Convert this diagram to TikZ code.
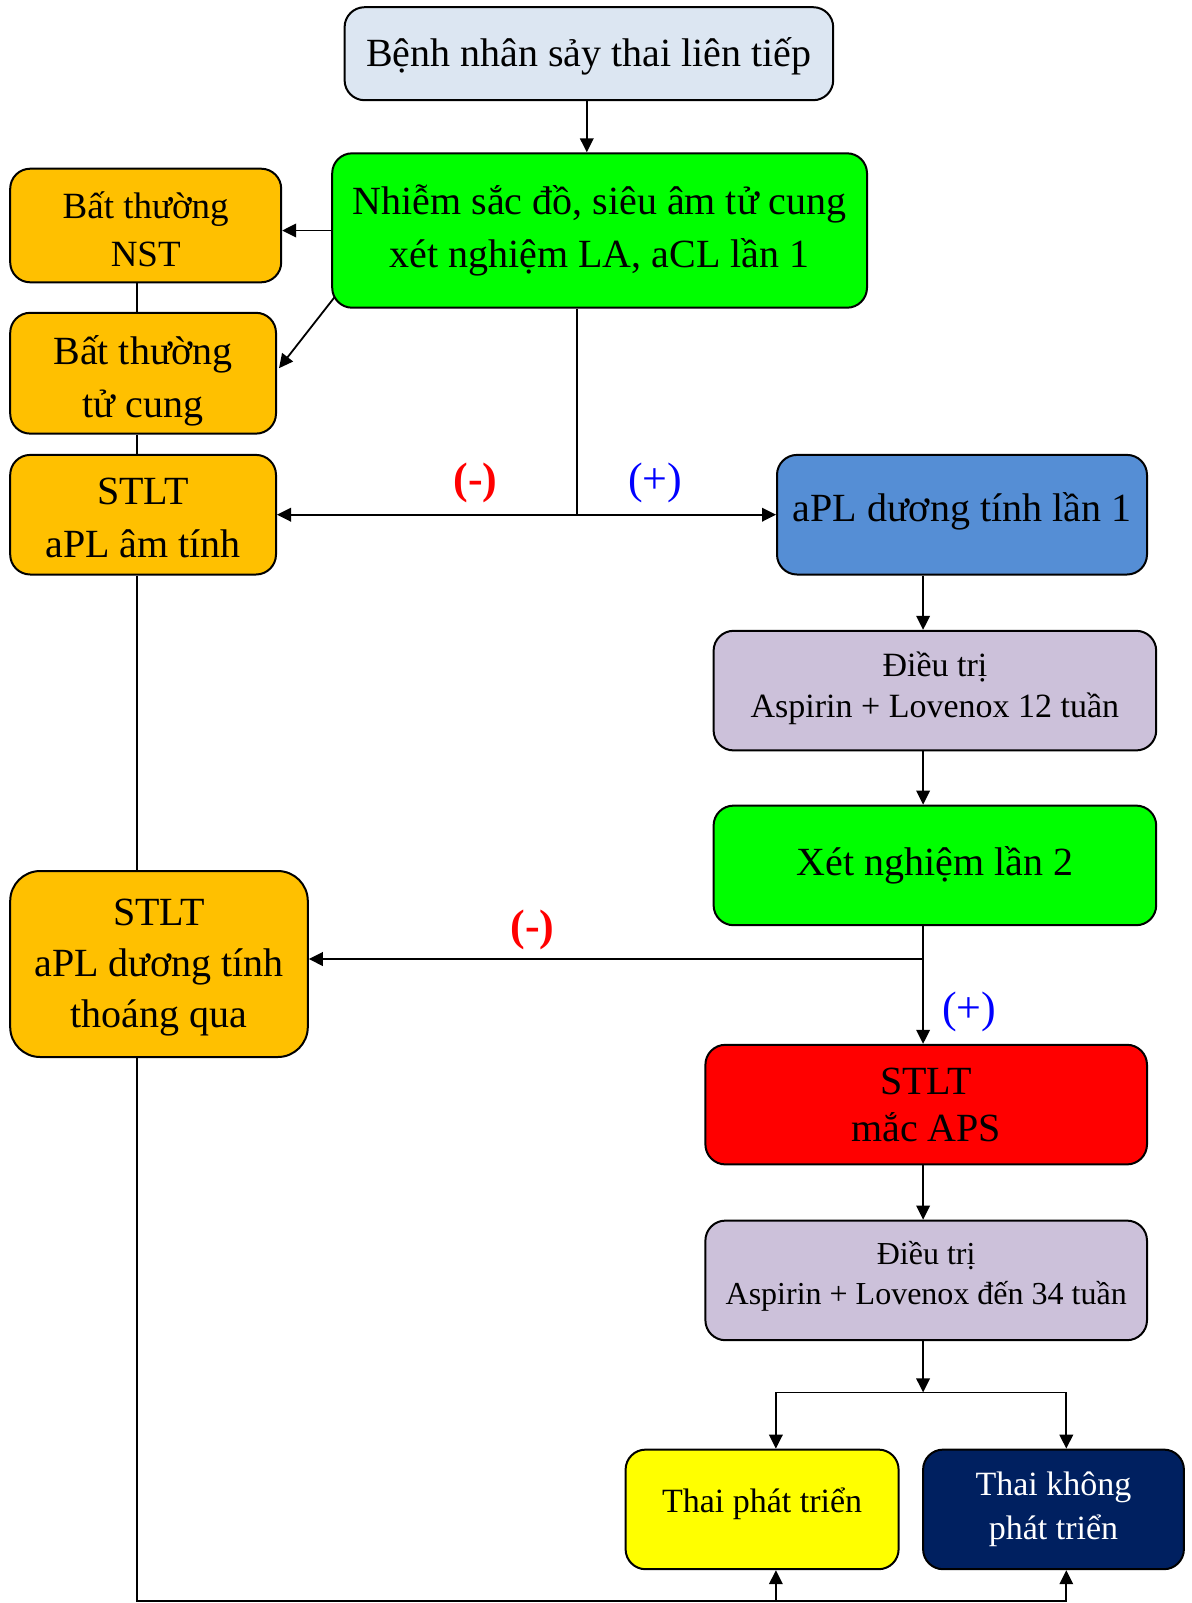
\documentclass[tikz,border=0pt]{standalone}
\usepackage{fontspec}
\setmainfont{Liberation Serif}
\usetikzlibrary{arrows.meta,calc}
\definecolor{cTop}{HTML}{DCE6F2}
\definecolor{cGreen}{HTML}{00FF00}
\definecolor{cOrange}{HTML}{FFC000}
\definecolor{cBlue}{HTML}{558ED5}
\definecolor{cLav}{HTML}{CCC1DA}
\definecolor{cRed}{HTML}{FF0000}
\definecolor{cYellow}{HTML}{FFFF00}
\definecolor{cNavy}{HTML}{002060}
\definecolor{cPlus}{HTML}{0000FF}
\newcommand\txsh[2]{\raisebox{#1}[\height][\depth]{#2}}
\tikzset{
  box/.style={draw=black, line width=1pt, rounded corners=10pt, align=center, inner sep=0pt, font=\fontsize{20}{26.5}\selectfont},
  arr/.style={line width=0.9pt, -{Triangle[length=7pt,width=6.8pt]}},
  darr/.style={line width=0.9pt, {Triangle[length=7pt,width=6.8pt]}-{Triangle[length=7pt,width=6.8pt]}},
  ln/.style={line width=0.9pt},
  lbl/.style={inner sep=0pt, font=\fontsize{22}{26}\selectfont}
}
\begin{document}
\begin{tikzpicture}[x=0.5pt,y=-0.5pt]
\useasboundingbox (0,0) rectangle (1192,1603);
\fill[white] (0,0) rectangle (1192,1603);
% nodes
\node[box, fill=cTop, minimum width=244.3pt, minimum height=46.5pt] (top) at (588.9,53.7) {\txsh{-1.5pt}{Bệnh nhân sảy thai liên tiếp}};
\node[box, fill=cGreen, minimum width=267.4pt, minimum height=77.2pt] (xn1) at (599.6,230.5) {Nhiễm sắc đồ, siêu âm tử cung\\xét nghiệm LA, aCL lần 1};
\node[box, fill=cOrange, minimum width=135.5pt, minimum height=56.8pt, font=\fontsize{18.5}{24}\selectfont] (nst) at (145.7,225.5) {\txsh{-1.8pt}{Bất thường}\\\txsh{-1.8pt}{NST}};
\node[box, fill=cOrange, minimum width=132.9pt, minimum height=60.4pt] (ut) at (143.1,373.2) {\txsh{-4pt}{Bất thường}\\\txsh{-4pt}{tử cung}};
\node[box, fill=cOrange, minimum width=132.9pt, minimum height=59.8pt] (neg1) at (143.1,514.7) {\txsh{-1.8pt}{STLT}\\\txsh{-1.8pt}{aPL âm tính}};
\node[box, fill=cBlue, minimum width=185pt, minimum height=59.8pt] (apl) at (962,514.7) {\txsh{1.5pt}{aPL dương tính lần 1}};
\node[box, fill=cLav, minimum width=221.3pt, minimum height=59.8pt, font=\fontsize{17}{20.5}\selectfont] (dt1) at (934.9,690.6) {\txsh{1pt}{Điều trị}\\\txsh{1pt}{Aspirin + Lovenox 12 tuần}};
\node[box, fill=cGreen, minimum width=221.3pt, minimum height=59.8pt] (xn2) at (934.9,865.4) {Xét nghiệm lần 2};
\node[box, fill=cOrange, minimum width=148.8pt, minimum height=93pt, rounded corners=15pt, font=\fontsize{20}{25.5}\selectfont] (tq) at (159,964) {\txsh{-2pt}{STLT}\\\txsh{-2pt}{aPL dương tính}\\\txsh{-2pt}{thoáng qua}};
\node[box, fill=cRed, minimum width=220.8pt, minimum height=59.8pt, font=\fontsize{20}{23.5}\selectfont] (aps) at (926.2,1104.6) {STLT\\mắc APS};
\node[box, fill=cLav, minimum width=220.8pt, minimum height=59.8pt, font=\fontsize{16}{20}\selectfont] (dt2) at (926.2,1280.4) {\txsh{2pt}{Điều trị}\\\txsh{2pt}{Aspirin + Lovenox đến 34 tuần}};
\node[box, fill=cYellow, minimum width=136.5pt, minimum height=59.8pt, font=\fontsize{17}{22}\selectfont, text depth=9pt] (t1) at (762.1,1509.4) {Thai phát triển};
\node[box, fill=cNavy, text=white, minimum width=130.4pt, minimum height=59.8pt, font=\fontsize{17}{22}\selectfont] (t2) at (1053.5,1509.4) {Thai không\\phát triển};
% labels
\node[lbl, text=cRed, font=\fontsize{22}{26}\selectfont\bfseries] (m1) at (475.4,482.5) {(-)};
\node[lbl, text=cPlus] (p1) at (655.3,482.5) {(+)};
\node[lbl, text=cRed, font=\fontsize{22}{26}\selectfont\bfseries] (m2) at (532.6,930.3) {(-)};
\node[lbl, text=cPlus] (p2) at (969.1,1012) {(+)};
% coordinates
\coordinate (ta) at (586.8,0);
\coordinate (sp) at (923.1,0);
\coordinate (lx) at (137,0);
\coordinate (j1) at (576.6,514.7);
\coordinate (j2) at (923.1,959);
\coordinate (j3) at (923.1,1392.4);
\coordinate (b1) at (775.9,1392.4);
\coordinate (b2) at (1066.3,1392.4);
\coordinate (bl) at (137,1601);
\coordinate (bm) at (775.9,1601);
\coordinate (br) at (1066.3,1601);
% connectors
\draw[arr] (top.south -| ta) -- (xn1.north -| ta);
\draw[arr] (xn1.west) -- (xn1.west -| nst.east);
\draw[arr] ($(xn1.south west)+(3.1,-11.2)$) -- ($(ut.east)+(2,-5)$);
\draw[ln] (xn1.south -| j1) -- (j1);
\draw[arr] (j1) -- (neg1.east);
\draw[arr] (j1) -- (apl.west);
\draw[arr] (apl.south -| sp) -- (dt1.north -| sp);
\draw[arr] (dt1.south -| sp) -- (xn2.north -| sp);
\draw[arr] (xn2.south -| sp) -- (aps.north -| sp);
\draw[arr] (j2) -- (j2 -| tq.east);
\draw[arr] (aps.south -| sp) -- (dt2.north -| sp);
\draw[arr] (dt2.south -| sp) -- (j3);
\draw[darr] (t1.north -| b1) -- (b1) -- (b2) -- (t2.north -| b2);
\draw[ln] (nst.south -| lx) -- (ut.north -| lx);
\draw[ln] (ut.south -| lx) -- (neg1.north -| lx);
\draw[ln] (neg1.south -| lx) -- (tq.north -| lx);
\draw[arr] (tq.south -| lx) -- (bl) -| (t2.south -| br);
\draw[arr] (bm) -- (t1.south -| bm);
\end{tikzpicture}
\end{document}
